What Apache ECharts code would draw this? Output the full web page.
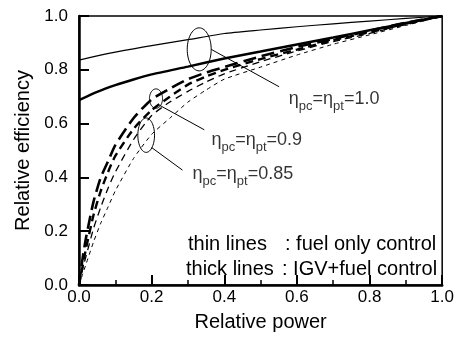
<!DOCTYPE html>
<html>
<head>
<meta charset="utf-8">
<script src="https://cdn.jsdelivr.net/npm/echarts@6/dist/echarts.min.js"></script>
<style>
  html, body { margin: 0; padding: 0; background: #fff; }
  #chartWrap { width: 457px; height: 337px; }
</style>
</head>
<body>
<div id="chartWrap"></div>
<script>
// relative power grid for the solid (eta = 1.0) curves
const powerSolid = [0, 0.05, 0.1, 0.15, 0.2, 0.3, 0.4, 0.5, 0.6, 0.7, 0.8, 0.9, 1.0];
const fuelOnly100 = [0.836, 0.852, 0.866, 0.878, 0.89, 0.912, 0.935, 0.948, 0.96, 0.971, 0.981, 0.991, 1.0];
const igvFuel100 = [0.687, 0.718, 0.743, 0.764, 0.783, 0.812, 0.842, 0.868, 0.894, 0.92, 0.947, 0.974, 1.0];

// relative power grid for the dashed curves
const powerDash = [0, 0.01, 0.02, 0.04, 0.06, 0.08, 0.1, 0.15, 0.2, 0.25, 0.3, 0.35, 0.4, 0.5, 0.6, 0.7, 0.8, 0.9, 1.0];
const igvFuel90 = [0, 0.1, 0.18, 0.31, 0.4, 0.46, 0.52, 0.62, 0.69, 0.73, 0.765, 0.79, 0.81, 0.85, 0.885, 0.915, 0.945, 0.975, 1.0];
const igvFuel85 = [0, 0.07, 0.14, 0.26, 0.35, 0.42, 0.48, 0.58, 0.65, 0.7, 0.745, 0.775, 0.8, 0.84, 0.875, 0.91, 0.94, 0.97, 1.0];
const fuelOnly90 = [0, 0.06, 0.11, 0.21, 0.29, 0.36, 0.42, 0.54, 0.63, 0.68, 0.72, 0.755, 0.785, 0.83, 0.87, 0.905, 0.935, 0.97, 1.0];
const fuelOnly85 = [0, 0.04, 0.08, 0.16, 0.23, 0.29, 0.35, 0.47, 0.56, 0.62, 0.68, 0.725, 0.765, 0.81, 0.855, 0.895, 0.93, 0.965, 1.0];

// ovals: [centre x, centre y, half width, half height]
const ovals = [
    [0.331, 0.876, 0.033, 0.08],
    [0.212, 0.693, 0.018, 0.036],
    [0.185, 0.557, 0.023, 0.064]
];
// leader lines from ovals to labels
const leaders = [
    [[0.364, 0.876], [0.551, 0.737]],
    [[0.222, 0.668], [0.345, 0.577]],
    [[0.2, 0.511], [0.285, 0.427]]
];
// label anchors (top left) and the efficiency they name
const labelPos = [[0.564, 0.745], [0.351, 0.591], [0.299, 0.464]];
const labelVals = ['1.0', '0.9', '0.85'];

const FONT = 'Liberation Sans, Arial, sans-serif';

function pairs(xs, ys) {
    return xs.map(function (x, i) { return [x, ys[i]]; });
}

const myChart = echarts.init(document.getElementById('chartWrap'));

const curveStyle = function (width, dash) {
    return {
        type: 'line',
        symbol: 'none',
        smooth: 0.2,
        silent: true,
        lineStyle: {color: '#000', width: width, type: dash},
        z: 3
    };
};

let series = [
    Object.assign(curveStyle(1.2, 'solid'), {name: 'fuel 1.0', data: pairs(powerSolid, fuelOnly100)}),
    Object.assign(curveStyle(2.4, 'solid'), {name: 'igv 1.0', data: pairs(powerSolid, igvFuel100)}),
    Object.assign(curveStyle(2.6, [13, 6]), {name: 'igv 0.9', data: pairs(powerDash, igvFuel90)}),
    Object.assign(curveStyle(2.4, [8, 5]), {name: 'igv 0.85', data: pairs(powerDash, igvFuel85)}),
    Object.assign(curveStyle(1.3, [7, 5]), {name: 'fuel 0.9', data: pairs(powerDash, fuelOnly90)}),
    Object.assign(curveStyle(1.0, [4, 4]), {name: 'fuel 0.85', data: pairs(powerDash, fuelOnly85)}),
    {
        type: 'custom',
        silent: true,
        z: 4,
        data: ovals,
        renderItem: function (params, api) {
            const c = api.coord([api.value(0), api.value(1)]);
            const s = api.size([api.value(2), api.value(3)]);
            let pts = [];
            for (let k = 0; k < 60; k++) {
                const a = k / 60 * Math.PI * 2;
                pts.push([c[0] + s[0] * Math.cos(a), c[1] + s[1] * Math.sin(a)]);
            }
            return {
                type: 'polygon',
                shape: {points: pts},
                style: {fill: 'none', stroke: '#000', lineWidth: 1}
            };
        }
    },
    {
        type: 'scatter',
        silent: true,
        symbolSize: 0,
        z: 5,
        data: labelPos.map(function (p, i) { return {value: p, name: labelVals[i]}; }),
        label: {
            show: true,
            position: 'insideTopLeft',
            formatter: function (p) {
                return '{e|η}{s|pc}{e|=η}{s|pt}{e|=' + p.name + '}';
            },
            rich: {
                e: {fontFamily: FONT, fontSize: 18, color: '#000', lineHeight: 19, verticalAlign: 'top'},
                s: {fontFamily: FONT, fontSize: 13, color: '#000', lineHeight: 13, padding: [10, 0, 0, 0], verticalAlign: 'top'}
            }
        }
    }
];

leaders.forEach(function (seg) {
    series.push({
        type: 'line',
        symbol: 'none',
        silent: true,
        z: 4,
        lineStyle: {color: '#000', width: 1},
        data: seg
    });
});

myChart.setOption({
    animation: false,
    backgroundColor: '#fff',
    grid: {
        left: 79, right: 13, top: 16, bottom: 47,
        show: true, borderColor: '#000', borderWidth: 1.5
    },
    xAxis: {
        type: 'value',
        min: 0, max: 1, interval: 0.2,
        name: 'Relative power',
        nameLocation: 'middle',
        nameGap: 27,
        nameTextStyle: {fontFamily: FONT, fontSize: 20, color: '#000'},
        axisLine: {lineStyle: {color: '#000', width: 2.5}},
        axisTick: {inside: true, length: 10, lineStyle: {color: '#000', width: 2}},
        minorTick: {show: true, splitNumber: 2, length: 5, lineStyle: {color: '#000', width: 1.5}},
        splitLine: {show: false},
        axisLabel: {
            fontFamily: FONT, fontSize: 17, color: '#000', margin: 4,
            formatter: function (v) { return v.toFixed(1); }
        }
    },
    yAxis: {
        type: 'value',
        min: 0, max: 1, interval: 0.2,
        name: 'Relative efficiency',
        nameLocation: 'middle',
        nameGap: 44,
        nameTextStyle: {fontFamily: FONT, fontSize: 20, color: '#000'},
        axisLine: {show: true, lineStyle: {color: '#000', width: 2.5}},
        axisTick: {show: true, inside: true, length: 10, lineStyle: {color: '#000', width: 2}},
        splitLine: {show: false},
        axisLabel: {
            fontFamily: FONT, fontSize: 17, color: '#000', margin: 11,
            formatter: function (v) { return v.toFixed(1); }
        }
    },
    graphic: [
        {type: 'text', left: 188, top: 234, style: {text: 'thin lines', font: '20px ' + FONT, fill: '#000'}},
        {type: 'text', left: 285, top: 234, style: {text: ': fuel only control', font: '20px ' + FONT, fill: '#000'}},
        {type: 'text', left: 186, top: 259, style: {text: 'thick lines', font: '20px ' + FONT, fill: '#000'}},
        {type: 'text', left: 282, top: 259, style: {text: ': IGV+fuel control', font: '20px ' + FONT, fill: '#000'}}
    ],
    series: series
});
</script>
</body>
</html>
